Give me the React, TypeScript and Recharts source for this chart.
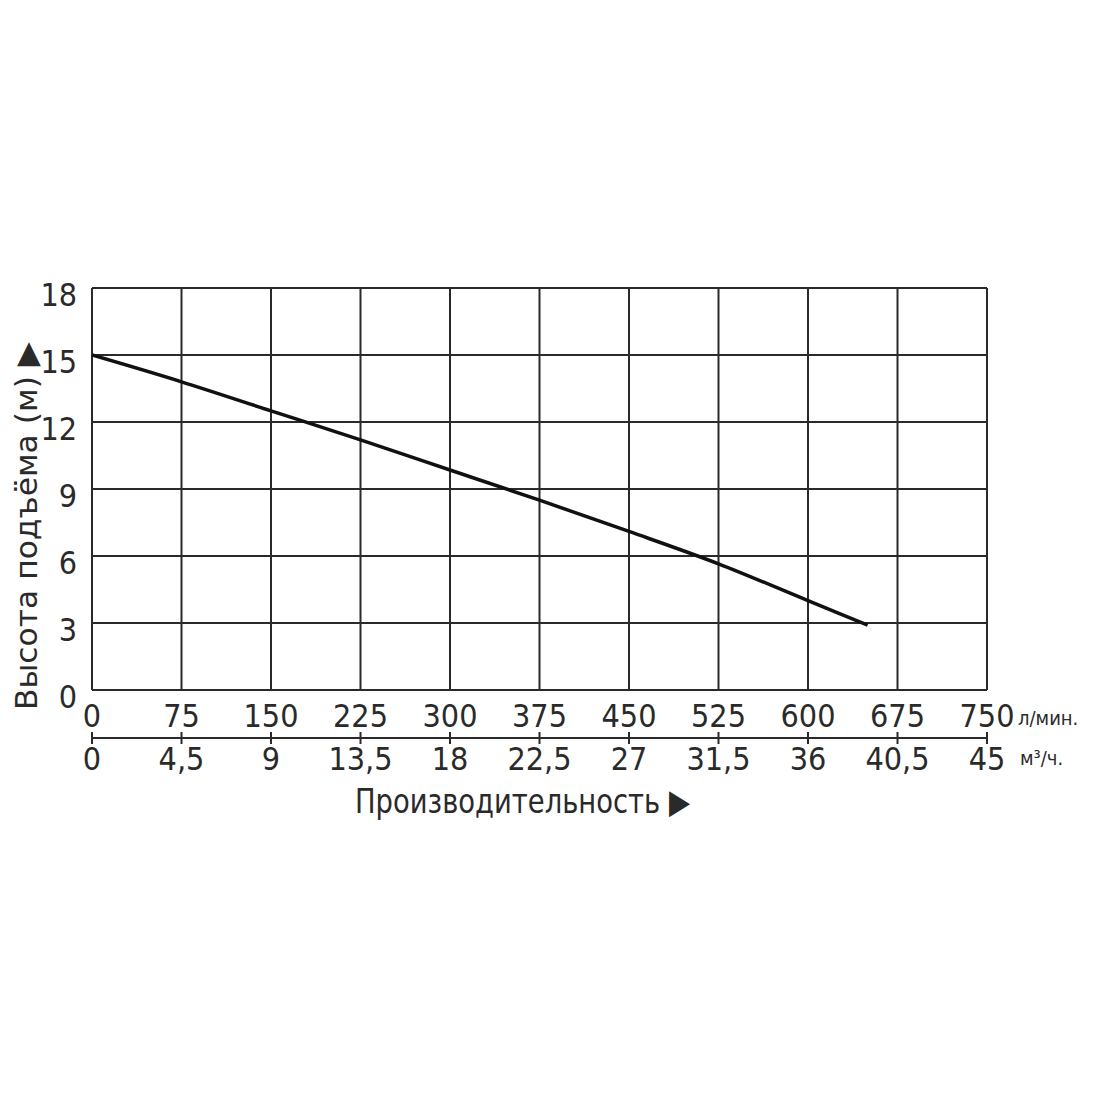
import React from 'react';
import { LineChart, Line, XAxis, YAxis, CartesianGrid, Customized } from 'recharts';

// Напорная характеристика насоса
const flowLpm = [0, 75, 150, 225, 300, 375, 450, 525, 600, 650];
const headM = [15, 13.8, 12.5, 11.2, 9.85, 8.5, 7.1, 5.65, 4.0, 2.9];

const lpmTicks = [0, 75, 150, 225, 300, 375, 450, 525, 600, 675, 750];
const m3Ticks = [0, 4.5, 9, 13.5, 18, 22.5, 27, 31.5, 36, 40.5, 45];
const headTicks = [0, 3, 6, 9, 12, 15, 18];

// л/мин -> м³/ч
const data = flowLpm.map((q, i) => ({ q, m3: (q * 60) / 1000, h: headM[i] }));

const NUM_FONT = "'DejaVu Sans Condensed', 'DejaVu Sans', sans-serif";
const TITLE_FONT = "'DejaVu Sans Condensed', 'DejaVu Sans', sans-serif";
const INK = '#2a2a2a';

const fmt = (v: number) => String(v).replace('.', ',');

function HeadTick({ x, y, payload }: any) {
  return (
    <text x={x} y={y + 18} textAnchor="end" fontSize={32} fontFamily={NUM_FONT} fill={INK}>
      {payload.value}
    </text>
  );
}

function LpmTick({ x, y, payload }: any) {
  return (
    <text x={x} y={y + 37} textAnchor="middle" fontSize={32} fontFamily={NUM_FONT} fill={INK}>
      {payload.value}
    </text>
  );
}

function M3Tick({ x, y, payload }: any) {
  return (
    <g>
      <line x1={x} x2={x} y1={y - 6} y2={y + 6} stroke={INK} strokeWidth={2} />
      <text x={x} y={y + 32} textAnchor="middle" fontSize={32} fontFamily={NUM_FONT} fill={INK}>
        {fmt(payload.value)}
      </text>
    </g>
  );
}

function Titles() {
  return (
    <g fill={INK}>
      <text x={1010} y={717} fontSize={20} fontFamily={TITLE_FONT}>л/мин.</text>
      <text x={1012} y={757} fontSize={20} fontFamily={TITLE_FONT}>м³/ч.</text>
      <text
        x={347}
        y={805}
        fontSize={34}
        fontFamily={TITLE_FONT}
        textLength={335}
        lengthAdjust="spacingAndGlyphs"
      >
        Производительность ▶
      </text>
      <text
        x={29}
        y={702}
        fontSize={31}
        fontFamily={TITLE_FONT}
        textLength={368}
        lengthAdjust="spacingAndGlyphs"
        transform="rotate(-90, 29, 702)"
      >
        Высота подъёма (м) ▶
      </text>
    </g>
  );
}

export default function App() {
  return (
    <div style={{ width: 1084, height: 1084, background: '#fff' }}>
      <LineChart
        width={1084}
        height={1084}
        data={data}
        margin={{ top: 280, right: 105, bottom: 254, left: 0 }}
      >
        <CartesianGrid stroke={INK} strokeWidth={2} />
        <XAxis
          dataKey="q"
          type="number"
          domain={[0, 750]}
          ticks={lpmTicks}
          allowDataOverflow
          axisLine={false}
          tickLine={false}
          tickSize={0}
          tickMargin={0}
          height={48}
          tick={<LpmTick />}
          interval={0}
        />
        <XAxis
          xAxisId="m3"
          dataKey="m3"
          type="number"
          domain={[0, 45]}
          ticks={m3Ticks}
          allowDataOverflow
          axisLine={{ stroke: INK, strokeWidth: 2 }}
          tickLine={false}
          tickSize={0}
          tickMargin={0}
          height={100}
          tick={<M3Tick />}
          interval={0}
        />
        <YAxis
          type="number"
          domain={[0, 18]}
          ticks={headTicks}
          allowDataOverflow
          axisLine={false}
          tickLine={false}
          tickSize={0}
          tickMargin={15}
          width={84}
          tick={<HeadTick />}
          interval={0}
        />
        <Line
          type="monotone"
          dataKey="h"
          stroke="#111"
          strokeWidth={3.5}
          dot={false}
          isAnimationActive={false}
        />
        <Customized component={<Titles />} />
      </LineChart>
    </div>
  );
}
